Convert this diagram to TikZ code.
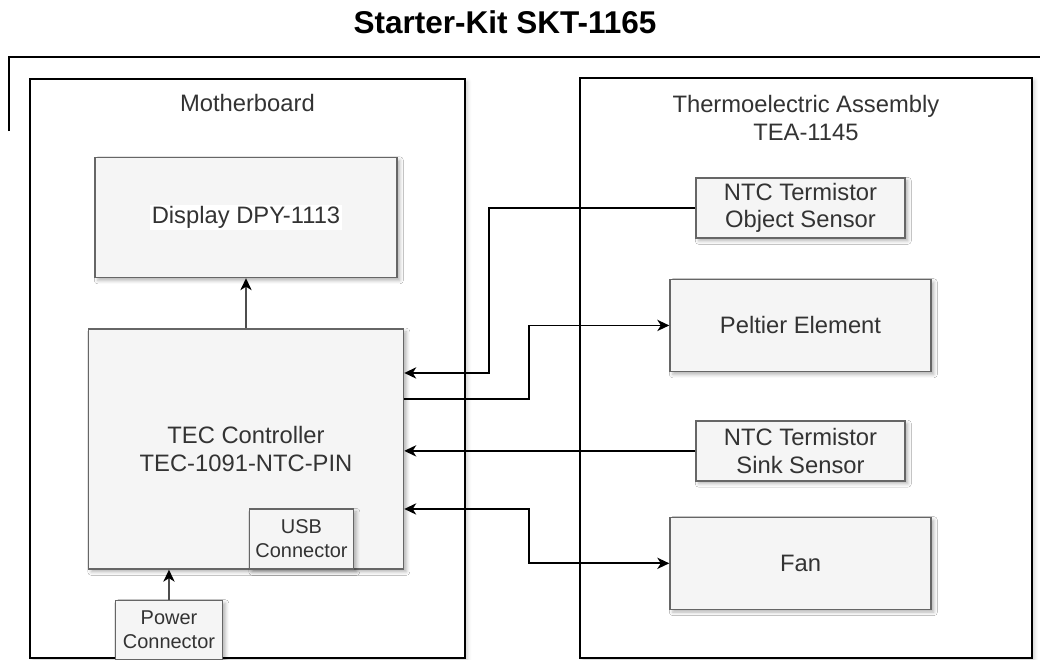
\documentclass[tikz,border=0pt]{standalone}
\usepackage{fontspec}
\setmainfont{Liberation Sans}
\usetikzlibrary{positioning,calc,arrows.meta,shadows.blur}
\definecolor{boxfill}{HTML}{F5F5F5}
\definecolor{boxline}{HTML}{666666}
\definecolor{labeltext}{HTML}{333333}
\definecolor{wiregray}{HTML}{4D4D4D}

\begin{document}
\begin{tikzpicture}[x=0.025cm, y=-0.025cm]
    \tikzstyle{outline}=[draw=black, line width=1.2pt]
    \tikzstyle{container}=[outline, fill=white, inner sep=0pt, anchor=north west, blur shadow={shadow xshift=2pt, shadow yshift=-2pt, shadow blur radius=2.5pt, shadow opacity=18}]
    \tikzstyle{lbl}=[text=labeltext, font=\fontsize{16.9}{19.5}\selectfont, align=center, inner sep=0pt]
    \tikzstyle{box}=[draw=boxline, fill=boxfill, line width=1pt, lbl, blur shadow={shadow xshift=2pt, shadow yshift=-2pt, shadow blur radius=2.5pt, shadow opacity=30}]
    \tikzstyle{smallbox}=[box, font=\fontsize{14.2}{17}\selectfont]
    \tikzstyle{conn}=[draw=black, line width=1.2pt, -{Stealth[length=8.5pt, width=8pt, inset=2.5pt, color=black]}]
    \tikzstyle{biconn}=[conn, {Stealth[length=8.5pt, width=8pt, inset=2.5pt]}-{Stealth[length=8.5pt, width=8pt, inset=2.5pt]}]
    \tikzstyle{gconn}=[conn, draw=wiregray]

    \useasboundingbox (0,0) rectangle (1040,659);

    \node (Title) [font=\fontsize{22.4}{26}\selectfont\bfseries] at (505,22) {Starter-Kit SKT-1165};
    \draw[outline] (9,131) -- (9,57) -- (1045,57);

    \node (Board) [container, minimum width=10.875cm, minimum height=14.475cm] at (29,78) {};
    \node (Assembly) [container, minimum width=11.3cm, minimum height=14.5cm] at (579,77) {};
    \node (BoardLabel) [lbl] at ($(Board.north)+(0,25)$) {Motherboard};
    \node (AssemblyLabel) [lbl] at ($(Assembly.north)+(0,41)$) {Thermoelectric Assembly\\TEA-1145};

    \node (Display) [box, minimum width=7.55cm, minimum height=3cm] at (246,217.5) {};
    \node (DisplayLabel) [lbl, fill=white, inner sep=1pt] at (Display) {Display DPY-1113};
    \node (Controller) [box, minimum width=7.875cm, minimum height=6cm, below=1.25cm of Display] {TEC Controller\\TEC-1091-NTC-PIN};
    \node (UsbConn) [smallbox, minimum width=2.6cm, minimum height=1.5cm, above left=0cm and 1.25cm of Controller.south east] {USB\\Connector};
    \node (PowerConn) [smallbox, minimum width=2.675cm, minimum height=1.475cm, below right=0.75cm and 0.675cm of Controller.south west] {Power\\Connector};

    \node (ObjSensor) [box, minimum width=5.225cm, minimum height=1.5cm] at (800.5,208) {NTC Termistor\\Object Sensor};
    \node (Peltier) [box, minimum width=6.525cm, minimum height=2.3cm, below=1cm of ObjSensor] {Peltier Element};
    \node (SinkSensor) [box, minimum width=5.225cm, minimum height=1.5cm, below=1.2cm of Peltier] {NTC Termistor\\Sink Sensor};
    \node (Fan) [box, minimum width=6.525cm, minimum height=2.3cm, below=0.875cm of SinkSensor] {Fan};

    \coordinate (ObjIn) at ($(Controller.east)+(0,-76)$);
    \coordinate (PeltOut) at ($(Controller.east)+(0,-50)$);
    \coordinate (FanOut) at ($(Controller.east)+(0,60)$);
    \coordinate (ObjJog) at (489,0);
    \coordinate (PeltJog) at (529,0);

    \draw[conn] (ObjSensor.west) -- (ObjJog |- ObjSensor.west) |- (ObjIn);
    \draw[conn] (PeltOut) -| (PeltJog |- Peltier.west) -- (Peltier.west);
    \draw[conn] (SinkSensor.west) -- (SinkSensor.west -| Controller.east);
    \draw[biconn] (FanOut) -| (PeltJog |- Fan.west) -- (Fan.west);
    \draw[gconn] (Controller.north) -- (Display.south);
    \draw[gconn] (PowerConn.north) -- (PowerConn.north |- Controller.south);

\end{tikzpicture}
\end{document}
